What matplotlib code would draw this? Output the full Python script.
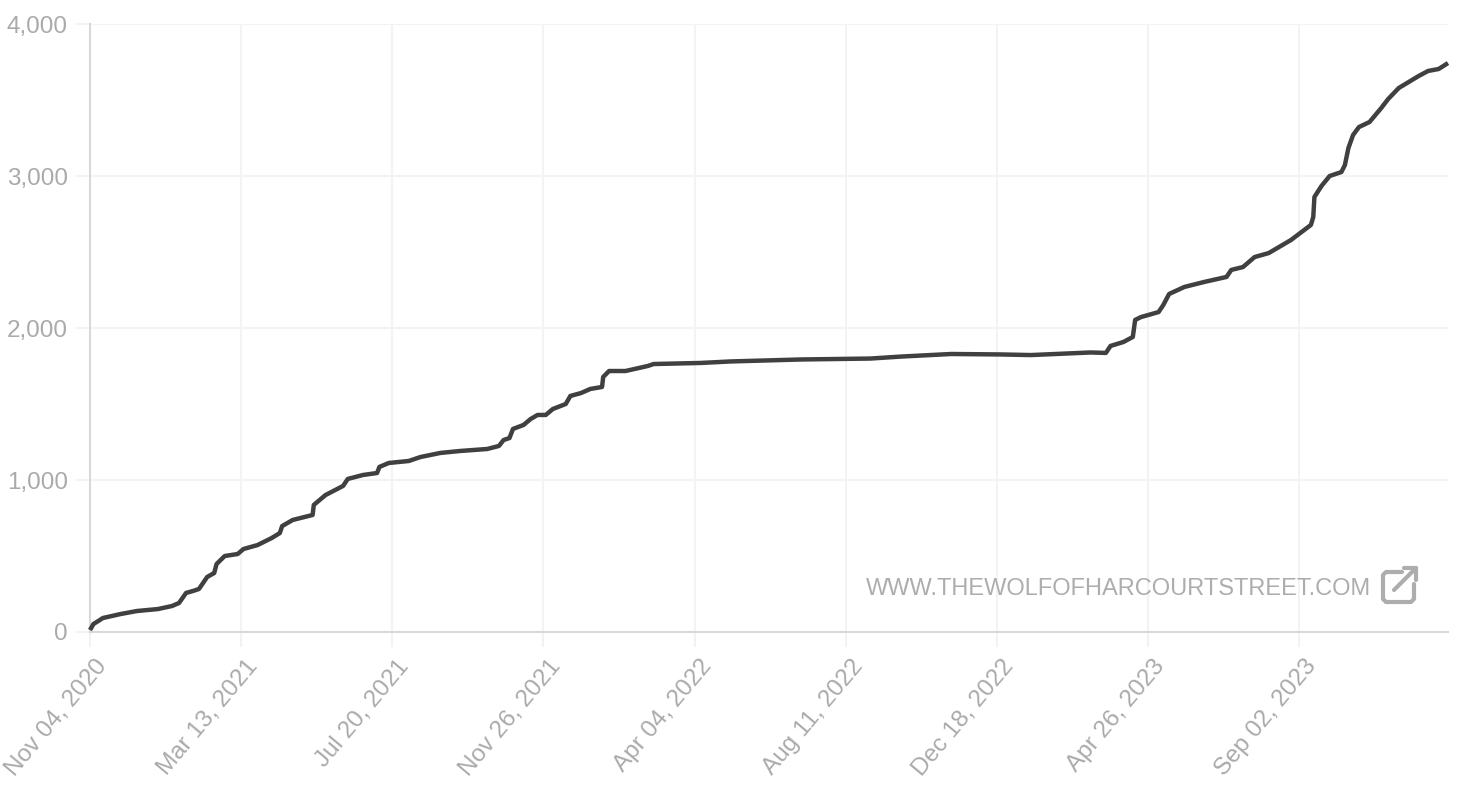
import matplotlib
matplotlib.use("Agg")
import matplotlib.pyplot as plt
from matplotlib.lines import Line2D
from matplotlib.transforms import ScaledTranslation
import pandas as pd

days = [0,3,7,11,26,40,58,70,76,82,88,93,100,106,108,115,126,131,143,155,162,164,173,190,191,201,216,220,233,245,247,255,
        272,282,299,316,339,349,353,358,361,370,376,382,389,395,406,410,419,427,437,438,443,457,476,481,521,547,607,666,692,
        735,777,803,854,867,871,882,890,892,897,912,916,921,934,951,970,974,984,994,1006,1025,1042,1044,1045,1051,1058,1068,
        1071,1074,1078,1083,1092,1102,1108,1117,1134,1142,1151,1159]
values = [13,53,72,92,118,138,151,171,191,257,270,283,362,388,447,500,513,546,572,618,651,697,737,770,836,901,961,1007,1033,1046,1086,1112,
          1125,1151,1178,1191,1204,1224,1263,1276,1336,1362,1401,1428,1428,1467,1500,1553,1572,1599,1612,1678,1717,1717,1750,1763,1770,1780,1793,1799,1812,
          1829,1826,1822,1839,1836,1882,1908,1941,2053,2072,2105,2151,2224,2270,2303,2336,2382,2401,2467,2493,2579,2678,2730,2862,2934,3000,3026,
          3072,3184,3270,3322,3355,3447,3507,3579,3658,3691,3704,3743]
start_date = "2020-11-04"
tick_dates = ["2020-11-04","2021-03-13","2021-07-20","2021-11-26","2022-04-04","2022-08-11","2022-12-18","2023-04-26","2023-09-02"]
tick_labels = ["Nov 04, 2020","Mar 13, 2021","Jul 20, 2021","Nov 26, 2021","Apr 04, 2022","Aug 11, 2022","Dec 18, 2022","Apr 26, 2023","Sep 02, 2023"]
y_ticks = [0,1000,2000,3000,4000]
y_labels = ["0","1,000","2,000","3,000","4,000"]
watermark = "WWW.THEWOLFOFHARCOURTSTREET.COM"

W, H = 1460, 792
plt.rcParams["font.family"] = ["Liberation Sans", "DejaVu Sans"]
fig = plt.figure(figsize=(W/100, H/100), dpi=100, facecolor="white")
ax = fig.add_axes([90/W, (H-632)/H, 1358/W, 608/H])

dates = pd.Timestamp(start_date) + pd.to_timedelta(days, unit="D")
ax.plot(dates, values, color="#404040", lw=3.2, solid_capstyle="butt", solid_joinstyle="round", zorder=5, clip_on=False)

ax.set_xlim(pd.Timestamp(start_date), dates[-1])
ax.set_ylim(0, 4000)
ax.set_xticks(pd.to_datetime(tick_dates))
ax.set_xticklabels(tick_labels, rotation=50, ha="right", rotation_mode="anchor")
ax.set_yticks(y_ticks)
ax.set_yticklabels(y_labels)
ax.grid(True, color="#f3f3f3", lw=1.5, zorder=0)
ax.set_axisbelow(True)
ax.tick_params(axis="both", length=11, width=1.5, color="#f3f3f3", labelcolor="#aaaaaa", labelsize=17.5, pad=5)
ax.tick_params(axis="x", pad=6)
for lab in ax.get_xticklabels():
    lab.set_transform(lab.get_transform() + ScaledTranslation(3.5/72, 0, fig.dpi_scale_trans))
for s in ("top", "right"):
    ax.spines[s].set_visible(False)
for s in ("left", "bottom"):
    ax.spines[s].set_color("#d9d9d9")
    ax.spines[s].set_linewidth(1.5)

fig.text(1371/W, 1-589/H, watermark, color="#adadad", fontsize=17.05, ha="right", va="center")

# external-link icon, placed in figure pixels
def px(xs, ys):
    return [x/W for x in xs], [1-y/H for y in ys]
icon = "#adadad"
for xs, ys in [([1402,1386,1383,1383,1386,1411,1414,1414], [572,572,575,599,602,602,599,584]),
               ([1394,1416], [590,568]),
               ([1404,1416,1416], [568,568,580])]:
    x, y = px(xs, ys)
    fig.add_artist(Line2D(x, y, color=icon, lw=3.0, solid_joinstyle="round", solid_capstyle="round", transform=fig.transFigure))

fig.savefig("out.png", dpi=100)
